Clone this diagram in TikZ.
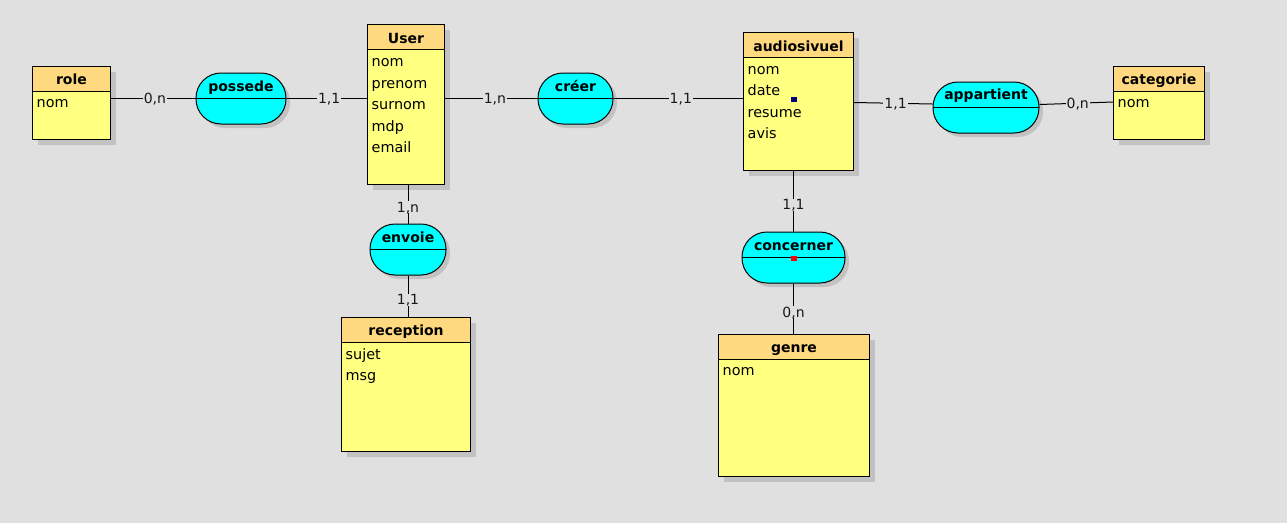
\documentclass[tikz,border=0pt]{standalone}
\usepackage{fontspec}
\setmainfont{DejaVu Sans}
\usetikzlibrary{shadows,calc}
\definecolor{bg}{HTML}{E0E0E0}
\definecolor{headc}{HTML}{FFD980}
\definecolor{bodyc}{HTML}{FFFF80}
\definecolor{shadc}{HTML}{C2C2C2}
\definecolor{relc}{HTML}{00FFFF}
\begin{document}
\begin{tikzpicture}[x=1pt,y=-1pt,
  entity/.style={draw=black, line width=1pt, fill=bodyc, anchor=north west, inner sep=0pt,
    drop shadow={shadow xshift=5pt, shadow yshift=-5pt, fill=shadc, opacity=1},
    path picture={\fill[headc] (path picture bounding box.north west) rectangle ([yshift=-25pt]path picture bounding box.north east);
      \draw[line width=1pt] ([yshift=-25pt]path picture bounding box.north west) -- ([yshift=-25pt]path picture bounding box.north east);}},
  rel/.style={draw=black, line width=1pt, fill=relc, rounded corners=25pt, inner sep=0pt, minimum height=51pt,
    drop shadow={shadow xshift=4pt, shadow yshift=-4pt, fill=shadc, opacity=1},
    path picture={\draw[line width=1pt] (path picture bounding box.west) -- (path picture bounding box.east);}},
  etitle/.style={anchor=base, inner sep=0pt, font=\fontsize{14}{16}\selectfont\bfseries},
  rtitle/.style={anchor=base, inner sep=0pt, font=\fontsize{14}{16}\selectfont\bfseries},
  attr/.style={anchor=base west, inner sep=0pt, font=\fontsize{14.4}{16}\selectfont},
  card/.style={fill=bg, inner sep=1pt, text height=10pt, text depth=0pt, font=\fontsize{14}{16}\selectfont, text=black!90},
  conn/.style={draw=black, line width=1pt}
]
\fill[bg] (0,0) rectangle (1287,523);
\useasboundingbox (0,0) rectangle (1287,523);

% entities
\node[entity, minimum width=78pt, minimum height=73pt] (role) at (32,66) {};
\node[entity, minimum width=77pt, minimum height=160pt] (user) at (367,24) {};
\node[entity, minimum width=110pt, minimum height=138pt] (audio) at (743,32) {};
\node[entity, minimum width=91pt, minimum height=73pt] (categorie) at (1113,66) {};
\node[entity, minimum width=129pt, minimum height=134pt] (reception) at (341,317) {};
\node[entity, minimum width=151pt, minimum height=142pt] (genre) at (718,334) {};

% relations
\node[rel, minimum width=90pt] (possede) at (241,98.5) {};
\node[rel, minimum width=75pt] (creer) at (575.5,98.5) {};
\node[rel, minimum width=106pt] (appartient) at (986,107.5) {};
\node[rel, minimum width=76pt] (envoie) at (408,249.5) {};
\node[rel, minimum width=103pt] (concerner) at (793.5,257.5) {};

% entity titles
\node[etitle] (role-t) at ($(role.north)+(0,18.8)$) {role};
\node[etitle] (user-t) at ($(user.north)+(0,19)$) {User};
\node[etitle] (audio-t) at ($(audio.north)+(0,19)$) {audiosivuel};
\node[etitle] (categorie-t) at ($(categorie.north)+(0,18.8)$) {categorie};
\node[etitle] (reception-t) at ($(reception.north)+(0,18.8)$) {reception};
\node[etitle] (genre-t) at ($(genre.north)+(0,18.8)$) {genre};

% attributes
\node[attr] (role-a1) at ($(role.north west)+(4.5,41.5)$) {nom};
\foreach \t [count=\i] in {nom,prenom,surnom,mdp,email}
  \node[attr] (user-a\i) at ($(user.north west)+(4.5,42.5+21.6*\i-21.6)$) {\t};
\foreach \t [count=\i] in {nom,date,resume,avis}
  \node[attr] (audio-a\i) at ($(audio.north west)+(4.5,42+21.6*\i-21.6)$) {\t};
\node[attr] (categorie-a1) at ($(categorie.north west)+(4.5,41.5)$) {nom};
\foreach \t [count=\i] in {sujet,msg}
  \node[attr] (reception-a\i) at ($(reception.north west)+(4.5,42+21.6*\i-21.6)$) {\t};
\node[attr] (genre-a1) at ($(genre.north west)+(4.5,41.5)$) {nom};

% relation titles
\node[rtitle] (possede-t) at ($(possede.north)+(0,18.5)$) {possede};
\node[rtitle] (creer-t) at ($(creer.north)+(0,18.5)$) {créer};
\node[rtitle] (appartient-t) at ($(appartient.north)+(0,17.5)$) {appartient};
\node[rtitle] (envoie-t) at ($(envoie.north)+(0,18.5)$) {envoie};
\node[rtitle] (concerner-t) at ($(concerner.north)+(0,18.5)$) {concerner};

% markers
\fill[blue!50!black] ($(audio.north west)+(48,65)$) rectangle ++(6,5);
\fill[red] ($(concerner.center)+(-2.5,-1.5)$) rectangle ++(6,5);

% connectors
\draw[conn] (possede.west -| role.east) -- node[card, pos=.52] (c1) {0,n} (possede.west);
\draw[conn] (possede.east) -- node[card, pos=.53] (c2) {1,1} (possede.east -| user.west);
\draw[conn] (creer.west -| user.east) -- node[card, pos=.54] (c3) {1,n} (creer.west);
\draw[conn] (creer.east) -- node[card, pos=.52] (c4) {1,1} (creer.east -| audio.west);
\draw[conn] ([yshift=-1pt]audio.east) -- node[card, pos=.53] (c5) {1,1} ([yshift=3.5pt]appartient.west);
\draw[conn] ([yshift=3pt]appartient.east) -- node[card, pos=.52] (c6) {0,n} ([yshift=1pt]categorie.west);
\draw[conn] (envoie.north |- user.south) -- node[card, pos=.58] (c7) {1,n} (envoie.north);
\draw[conn] (envoie.south) -- node[card, pos=.58] (c8) {1,1} (envoie.south |- reception.north);
\draw[conn] (concerner.north |- audio.south) -- node[card, pos=.56] (c9) {1,1} (concerner.north);
\draw[conn] (concerner.south) -- node[card, pos=.57] (c10) {0,n} (concerner.south |- genre.north);
\end{tikzpicture}
\end{document}
